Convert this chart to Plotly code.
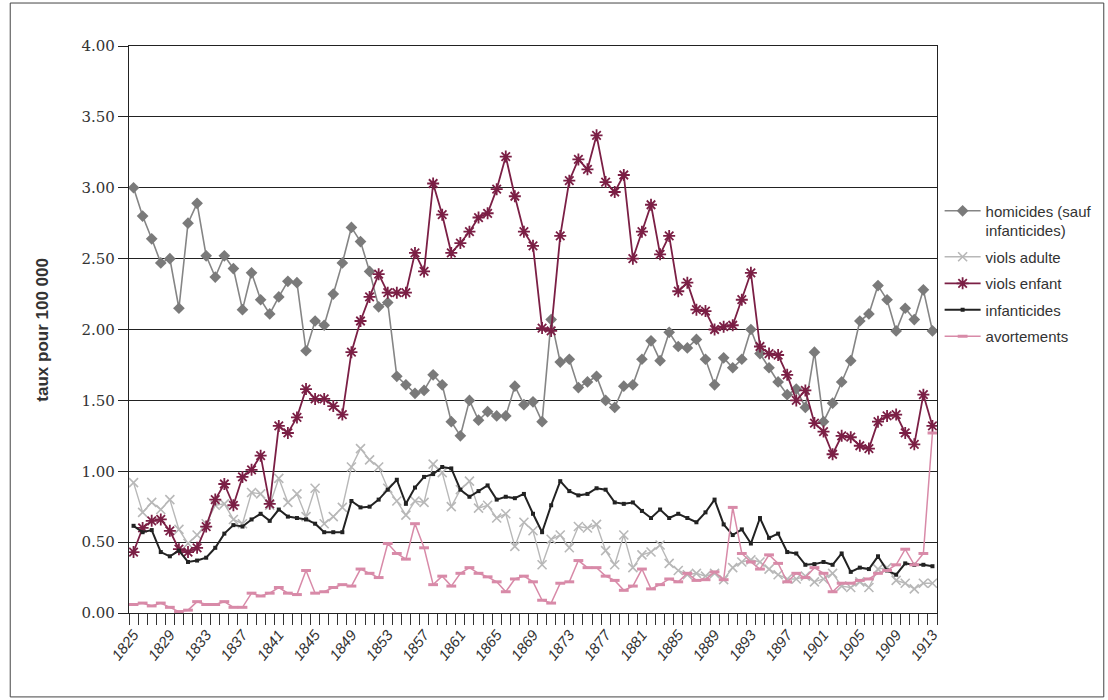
import plotly.graph_objects as go

years = list(range(1825, 1914))

homicides = [3.00, 2.80, 2.64, 2.47, 2.50, 2.15, 2.75, 2.89, 2.52, 2.37,
             2.52, 2.43, 2.14, 2.40, 2.21, 2.11, 2.23, 2.34, 2.33, 1.85,
             2.06, 2.03, 2.25, 2.47, 2.72, 2.62, 2.41, 2.16, 2.19, 1.67,
             1.61, 1.55, 1.57, 1.68, 1.61, 1.35, 1.25, 1.50, 1.36, 1.42,
             1.39, 1.39, 1.60, 1.47, 1.49, 1.35, 2.07, 1.77, 1.79, 1.59,
             1.63, 1.67, 1.50, 1.45, 1.60, 1.61, 1.79, 1.92, 1.78, 1.98,
             1.88, 1.87, 1.93, 1.79, 1.61, 1.80, 1.73, 1.79, 2.00, 1.83,
             1.73, 1.63, 1.54, 1.58, 1.45, 1.84, 1.35, 1.48, 1.63, 1.78,
             2.06, 2.11, 2.31, 2.21, 1.99, 2.15, 2.07, 2.28, 1.99]

viols_adulte = [0.92, 0.71, 0.78, 0.73, 0.80, 0.59, 0.49, 0.55, 0.63, 0.76,
                0.77, 0.66, 0.63, 0.85, 0.84, 0.76, 0.95, 0.78, 0.84, 0.68,
                0.88, 0.63, 0.68, 0.745, 1.03, 1.16, 1.08, 1.03, 0.88, 0.79,
                0.69, 0.79, 0.78, 1.05, 0.99, 0.75, 0.87, 0.93, 0.74, 0.76,
                0.67, 0.70, 0.47, 0.64, 0.58, 0.34, 0.52, 0.55, 0.46, 0.61,
                0.60, 0.625, 0.44, 0.34, 0.55, 0.32, 0.41, 0.43, 0.48, 0.35,
                0.30, 0.27, 0.28, 0.26, 0.28, 0.235, 0.32, 0.36, 0.375, 0.36,
                0.31, 0.27, 0.24, 0.24, 0.26, 0.22, 0.24, 0.28, 0.19, 0.18,
                0.22, 0.18, 0.31, 0.32, 0.23, 0.21, 0.17, 0.21, 0.21]

viols_enfant = [0.43, 0.60, 0.65, 0.66, 0.58, 0.45, 0.43, 0.46, 0.61, 0.80,
                0.91, 0.76, 0.96, 1.01, 1.11, 0.77, 1.32, 1.27, 1.38, 1.58,
                1.51, 1.51, 1.46, 1.40, 1.84, 2.06, 2.23, 2.39, 2.26, 2.26,
                2.26, 2.54, 2.41, 3.03, 2.81, 2.54, 2.61, 2.69, 2.79, 2.82,
                2.99, 3.22, 2.94, 2.69, 2.59, 2.01, 1.99, 2.66, 3.05, 3.20,
                3.13, 3.37, 3.04, 2.97, 3.09, 2.50, 2.69, 2.88, 2.53, 2.66,
                2.27, 2.33, 2.14, 2.13, 2.00, 2.02, 2.03, 2.21, 2.40, 1.88,
                1.83, 1.82, 1.68, 1.50, 1.57, 1.34, 1.28, 1.12, 1.25, 1.24,
                1.18, 1.16, 1.35, 1.39, 1.40, 1.27, 1.19, 1.54, 1.32]

infanticides = [0.615, 0.57, 0.585, 0.43, 0.40, 0.44, 0.36, 0.37, 0.39, 0.46,
                0.56, 0.62, 0.61, 0.66, 0.70, 0.65, 0.73, 0.68, 0.67, 0.66,
                0.63, 0.57, 0.57, 0.57, 0.79, 0.745, 0.75, 0.80, 0.87, 0.94,
                0.77, 0.885, 0.96, 0.98, 1.03, 1.02, 0.87, 0.82, 0.86, 0.90,
                0.80, 0.82, 0.81, 0.84, 0.70, 0.57, 0.76, 0.93, 0.86, 0.83,
                0.84, 0.88, 0.87, 0.78, 0.77, 0.78, 0.72, 0.67, 0.73, 0.67,
                0.70, 0.67, 0.64, 0.71, 0.80, 0.625, 0.55, 0.59, 0.49, 0.67,
                0.53, 0.56, 0.43, 0.42, 0.34, 0.345, 0.36, 0.34, 0.42, 0.29,
                0.32, 0.31, 0.40, 0.30, 0.27, 0.35, 0.34, 0.34, 0.33]

avortements = [0.06, 0.07, 0.05, 0.07, 0.04, 0.01, 0.02, 0.08, 0.06, 0.06,
               0.08, 0.04, 0.04, 0.14, 0.12, 0.14, 0.18, 0.14, 0.13, 0.30,
               0.14, 0.15, 0.18, 0.20, 0.19, 0.31, 0.28, 0.25, 0.49, 0.42,
               0.38, 0.63, 0.46, 0.20, 0.26, 0.19, 0.28, 0.32, 0.28, 0.255,
               0.22, 0.15, 0.24, 0.26, 0.22, 0.09, 0.07, 0.21, 0.22, 0.37,
               0.32, 0.32, 0.26, 0.23, 0.16, 0.19, 0.31, 0.17, 0.20, 0.24,
               0.22, 0.28, 0.23, 0.235, 0.29, 0.235, 0.745, 0.42, 0.36, 0.31,
               0.41, 0.35, 0.22, 0.28, 0.25, 0.32, 0.28, 0.15, 0.21, 0.21,
               0.23, 0.24, 0.28, 0.30, 0.34, 0.45, 0.34, 0.42, 1.27]

label_years = list(range(1825, 1914, 4))

C_HOM = "#858585"
C_VA = "#b8b8b8"
C_VE = "#7b1f45"
C_INF = "#222222"
C_AV = "#d88aa8"

fig = go.Figure()
fig.add_trace(go.Scatter(
    x=years, y=homicides, name="homicides (sauf<br>infanticides)", mode="lines+markers",
    line=dict(color=C_HOM, width=1.6),
    marker=dict(symbol="diamond", size=9, color="#7a7a7a"),
    legendgroup="a"))
fig.add_trace(go.Scatter(
    x=years, y=viols_adulte, name="viols adulte", mode="lines+markers",
    line=dict(color=C_VA, width=1.4),
    marker=dict(symbol="x-thin-open", size=9, line=dict(color=C_VA, width=1.6)),
    legendgroup="b"))
fig.add_trace(go.Scatter(
    x=years, y=viols_enfant, name="viols enfant", mode="lines+markers",
    line=dict(color=C_VE, width=1.8),
    marker=dict(symbol="asterisk-open", size=10, line=dict(color=C_VE, width=1.8)),
    legendgroup="c"))
fig.add_trace(go.Scatter(
    x=years, y=infanticides, name="infanticides", mode="lines+markers",
    line=dict(color=C_INF, width=2),
    marker=dict(symbol="square", size=4, color=C_INF),
    legendgroup="d"))
fig.add_trace(go.Scatter(
    x=years, y=avortements, name="avortements", mode="lines+markers",
    line=dict(color=C_AV, width=1.5),
    marker=dict(symbol="line-ew", size=7, line=dict(color=C_AV, width=3)),
    legendgroup="e"))

fig.update_layout(
    width=1108, height=700,
    margin=dict(l=129, r=170, t=46, b=87),
    paper_bgcolor="white", plot_bgcolor="white",
    showlegend=True,
    legend=dict(x=1.002, y=0.738, xanchor="left", yanchor="top",
                font=dict(family="Liberation Sans, Arial, sans-serif", size=15, color="#333"),
                itemwidth=36, tracegroupgap=4, valign="top",
                bgcolor="rgba(0,0,0,0)"),
    xaxis=dict(
        range=[1824.5, 1913.5],
        tickmode="array", tickvals=label_years, ticktext=[str(y) for y in label_years],
        tickangle=-52, ticks="outside", ticklen=6, tickcolor="rgba(0,0,0,0)",
        tickfont=dict(family="Liberation Sans, Arial, sans-serif", size=15, color="#333", style="italic"),
        showgrid=False, zeroline=False, automargin=False,
        showline=True, linecolor="#222", linewidth=1.3, mirror=True,
        minor=dict(tick0=1824.5, dtick=1, ticks="outside", ticklen=11, tickcolor="#333", tickwidth=1.2),
    ),
    yaxis=dict(
        range=[0, 4], dtick=0.5, tickformat=".2f",
        ticks="outside", ticklen=10, tickcolor="#222", tickwidth=1.3,
        tickfont=dict(family="DejaVu Serif, serif", size=15, color="#333"),
        showgrid=True, gridcolor="#222", gridwidth=1.3,
        zeroline=False, automargin=False,
        showline=True, linecolor="#222", linewidth=1.3, mirror=True,
    ),
    annotations=[dict(
        text="<b>taux pour 100 000</b>", textangle=-90,
        xref="paper", yref="paper", x=-0.1075, y=0.50,
        xanchor="center", yanchor="middle", showarrow=False,
        font=dict(family="Liberation Sans, Arial, sans-serif", size=17, color="#333"))],
    shapes=[dict(type="rect", xref="paper", yref="paper",
                 x0=-0.147, x1=1.2064, y0=-0.148, y1=1.0758,
                 line=dict(color="#444", width=1), fillcolor="rgba(0,0,0,0)", layer="below")],
)

fig.write_html(
    "out.html",
    config={"displayModeBar": False},
    post_script="document.body.style.margin='0px';document.body.style.overflow='hidden';",
)
